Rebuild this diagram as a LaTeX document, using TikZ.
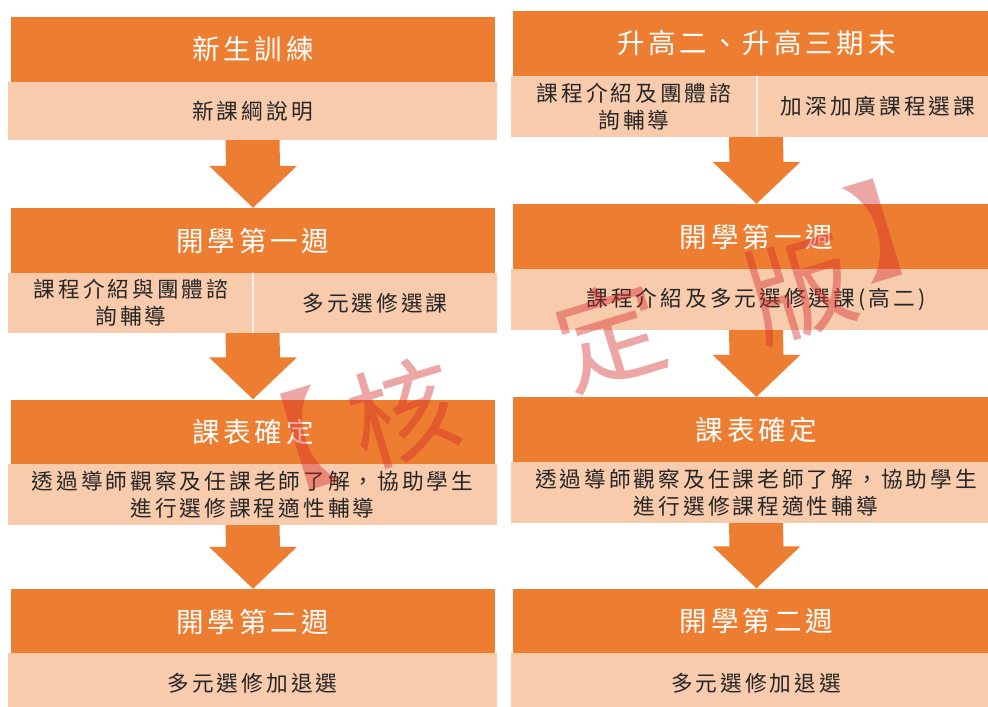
\documentclass[tikz,border=0pt]{standalone}
\usepackage{fontspec}
\newfontfamily\cjk[LetterSpace=14]{Noto Sans CJK TC}
\usetikzlibrary{calc}
\definecolor{flow}{HTML}{ED7D31}
\definecolor{flowlight}{HTML}{F8CBAD}
\definecolor{stamp}{HTML}{D42A2A}
\tikzset{
  head/.style={rectangle, fill=flow, text=white, inner sep=0pt, minimum height=1.95cm,
    font=\cjk\fontsize{23.5}{28}\selectfont},
  sub/.style={rectangle, fill=flowlight, text=black!85, inner sep=0pt, align=center,
    font=\cjk\fontsize{18.5}{23}\selectfont},
  cell/.style={inner sep=0pt, align=center, text=black!85,
    font=\cjk\fontsize{18.5}{23}\selectfont},
  stampchar/.style={text=stamp, opacity=0.42, rotate=17, inner sep=0pt,
    font=\cjk\fontsize{92}{92}\selectfont}
}
% block arrow from a sub bar down to the next header
\newcommand{\flowarrow}[2]{%
  \fill[flow] ($(#1.south)+(-27,0)$) -- ($(#1.south)+(27,0)$) -- ($(#2.north)+(27,-42)$)
    -- ($(#2.north)+(44,-42)$) -- (#2.north) -- ($(#2.north)+(-44,-42)$)
    -- ($(#2.north)+(-27,-42)$) -- cycle;}
\begin{document}
\begin{tikzpicture}[x=0.03cm, y=-0.03cm, line join=round, line cap=round]
  \useasboundingbox (0,0) rectangle (988,707);
  \clip (0,0) rectangle (988,707);
  % left column
  \node[head, minimum width=14.52cm] (L1h) at (253,49.5) {新生訓練};
  \node[sub, minimum width=14.67cm, minimum height=1.74cm] (L1s) at (252.5,111) {新課綱說明};
  \node[head, minimum width=14.52cm] (L2h) at (253,240.5) {開學第一週};
  \node[sub, minimum width=14.67cm, minimum height=1.8cm] (L2s) at (252.5,303) {};
  \draw[white!70!flowlight, line width=1pt] (253,273) -- (253,333);
  \node[cell] (L2a) at (131,303) {課程介紹與團體諮\\詢輔導};
  \node[cell] (L2b) at (375,303) {多元選修選課};
  \node[head, minimum width=14.52cm] (L3h) at (253,432) {課表確定};
  \node[sub, minimum width=14.67cm, minimum height=1.83cm] (L3s) at (252.5,494.5)
    {透過導師觀察及任課老師了解，協助學生\\進行選修課程適性輔導};
  \node[head, minimum width=14.52cm] (L4h) at (253,621.5) {開學第二週};
  \node[sub, minimum width=14.67cm, minimum height=1.8cm] (L4s) at (252.5,683) {多元選修加退選};
  \flowarrow{L1s}{L2h}
  \flowarrow{L2s}{L3h}
  \flowarrow{L3s}{L4h}
  % right column
  \node[head, minimum width=14.61cm] (R1h) at (756.5,43.5) {升高二、升高三期末};
  \node[sub, minimum width=14.7cm, minimum height=1.83cm] (R1s) at (756,106.5) {};
  \draw[white!70!flowlight, line width=1pt] (757,76) -- (757,137);
  \node[cell] (R1a) at (634,106.5) {課程介紹及團體諮\\詢輔導};
  \node[cell] (R1b) at (878,106.5) {加深加廣課程選課};
  \node[head, minimum width=14.61cm] (R2h) at (756.5,236.5) {開學第一週};
  \node[sub, minimum width=14.7cm, minimum height=1.83cm] (R2s) at (756,299.5) {課程介紹及多元選修選課(高二)};
  \node[head, minimum width=14.61cm] (R3h) at (756.5,429.5) {課表確定};
  \node[sub, minimum width=14.7cm, minimum height=1.83cm] (R3s) at (756,492.5)
    {透過導師觀察及任課老師了解，協助學生\\進行選修課程適性輔導};
  \node[head, minimum width=14.61cm] (R4h) at (756.5,621) {開學第二週};
  \node[sub, minimum width=14.7cm, minimum height=1.8cm] (R4s) at (756,683) {多元選修加退選};
  \flowarrow{R1s}{R2h}
  \flowarrow{R2s}{R3h}
  \flowarrow{R3s}{R4h}
  % watermark
  \node[stampchar] (W1) at (278,448) {【};
  \node[stampchar] (W2) at (403,412) {核};
  \node[stampchar] (W3) at (610,335) {定};
  \node[stampchar] (W4) at (800,288) {版};
  \node[stampchar] (W5) at (905,222) {】};
\end{tikzpicture}
\end{document}
